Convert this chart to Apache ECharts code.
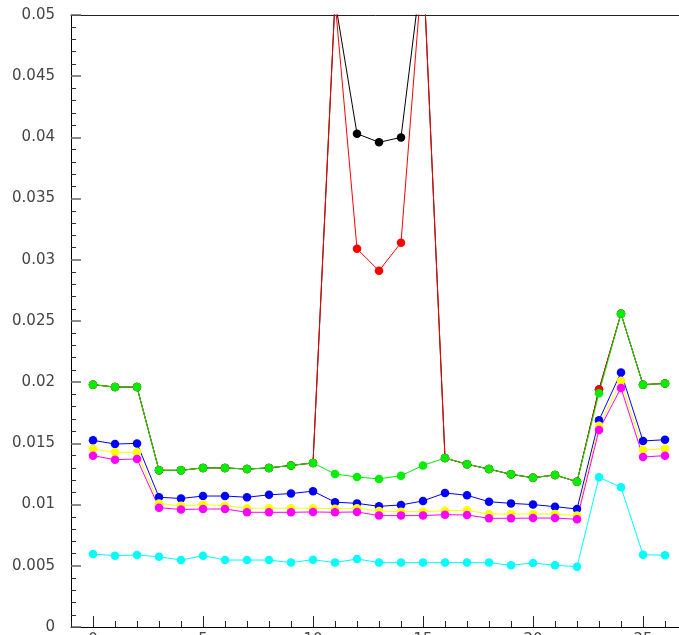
<!DOCTYPE html>
<html>
<head>
<meta charset="utf-8">
<script src="https://cdn.jsdelivr.net/npm/echarts@6/dist/echarts.min.js"></script>
<style>
  html, body { margin: 0; padding: 0; background: #fff; }
  #main { width: 679px; height: 635px; }
</style>
</head>
<body>
<div id="main"></div>
<script>
// x positions of the points
var xs = [0, 1, 2, 3, 4, 5, 6, 7, 8, 9, 10, 11, 12, 13, 14, 15, 16, 17, 18, 19, 20, 21, 22, 23, 24, 25, 26];
var xLabels = [0, 5, 10, 15, 20, 25];

// series values
var blackVals = [0.0198, 0.0196, 0.0196, 0.0128, 0.0128, 0.0130, 0.0130, 0.0129, 0.0130, 0.0132, 0.0134,
  0.0512, 0.0403, 0.0396, 0.0400, 0.0545, 0.0138, 0.0133, 0.0129, 0.01247, 0.0122, 0.01242, 0.01187,
  0.0194, 0.0256, 0.0198, 0.0199];
var redVals = [0.0198, 0.0196, 0.0196, 0.0128, 0.0128, 0.0130, 0.0130, 0.0129, 0.0130, 0.0132, 0.0134,
  0.0512, 0.0309, 0.0291, 0.0314, 0.0545, 0.0138, 0.0133, 0.0129, 0.01247, 0.0122, 0.01242, 0.01187,
  0.0194, 0.0256, 0.0198, 0.0199];
var greenVals = [0.0198, 0.0196, 0.0196, 0.0128, 0.0128, 0.0130, 0.0130, 0.0129, 0.0130, 0.0132, 0.0134,
  0.0125, 0.01225, 0.0121, 0.01236, 0.0132, 0.0138, 0.0133, 0.0129, 0.01247, 0.0122, 0.01242, 0.01187,
  0.0191, 0.0256, 0.0198, 0.0199];
var blueVals = [0.01525, 0.01495, 0.0150, 0.0106, 0.0105, 0.0107, 0.0107, 0.0106, 0.0108, 0.0109, 0.0111,
  0.0102, 0.0101, 0.00986, 0.00997, 0.0103, 0.01095, 0.01076, 0.01024, 0.0101, 0.0100, 0.00983, 0.00964,
  0.0169, 0.0208, 0.0152, 0.0153];
var yellowVals = [0.01454, 0.01427, 0.01427, 0.01008, 0.0099, 0.0100, 0.0099, 0.0097, 0.0097, 0.0097, 0.0097,
  0.00967, 0.0097, 0.00948, 0.00942, 0.00942, 0.0095, 0.00953, 0.00923, 0.00923, 0.00923, 0.00923, 0.0091,
  0.01645, 0.0201, 0.01446, 0.01457];
var magentaVals = [0.0140, 0.01367, 0.01373, 0.00975, 0.0096, 0.00964, 0.00964, 0.00937, 0.00937, 0.00937, 0.0094,
  0.00937, 0.0094, 0.0091, 0.0091, 0.0091, 0.00918, 0.00915, 0.00888, 0.00888, 0.0089, 0.0089, 0.0088,
  0.0161, 0.01953, 0.01389, 0.0140];
var cyanVals = [0.00596, 0.00583, 0.00588, 0.00574, 0.00547, 0.00583, 0.00547, 0.00547, 0.00547, 0.00526, 0.0055,
  0.00526, 0.00556, 0.00526, 0.00526, 0.00526, 0.00526, 0.00526, 0.00526, 0.00504, 0.00523, 0.00504, 0.00493,
  0.01223, 0.01141, 0.00591, 0.00586];

var seriesDefs = [
  { name: 'black', color: '#000000', vals: blackVals },
  { name: 'red', color: '#ff0000', vals: redVals },
  { name: 'green', color: '#00ee00', vals: greenVals },
  { name: 'blue', color: '#0000ff', vals: blueVals },
  { name: 'yellow', color: '#ffff00', vals: yellowVals },
  { name: 'magenta', color: '#ff00ff', vals: magentaVals },
  { name: 'cyan', color: '#00ffff', vals: cyanVals }
];

function pairs(vals) {
  var out = [];
  for (var i = 0; i < xs.length; i++) {
    out.push([xs[i], vals[i]]);
  }
  return out;
}

var chart = echarts.init(document.getElementById('main'));

var series = seriesDefs.map(function (d) {
  return {
    name: d.name,
    type: 'line',
    xAxisIndex: 0,
    yAxisIndex: 0,
    data: pairs(d.vals),
    symbol: 'circle',
    symbolSize: 8.5,
    showSymbol: true,
    clip: true,
    animation: false,
    itemStyle: { color: d.color },
    lineStyle: { color: d.color, width: 1 }
  };
});

var option = {
  backgroundColor: '#fff',
  animation: false,
  grid: {
    left: 71,
    top: 15,
    width: 616,
    height: 612,
    containLabel: false,
    outerBoundsMode: 'none'
  },
  xAxis: [
    {
      // minor ticks every unit
      type: 'value',
      min: -1,
      max: 27,
      interval: 1,
      position: 'bottom',
      axisLine: { show: true, onZero: false, lineStyle: { color: '#000', width: 1 } },
      axisTick: { show: true, inside: true, length: 6, lineStyle: { color: '#222' } },
      axisLabel: { show: false },
      splitLine: { show: false }
    },
    {
      // major ticks + labels
      type: 'value',
      min: -1,
      max: 27,
      position: 'bottom',
      axisLine: { show: false, onZero: false },
      axisTick: { show: true, inside: true, length: 11, customValues: xLabels, lineStyle: { color: '#222' } },
      axisLabel: {
        show: true,
        customValues: xLabels,
        margin: 6,
        color: '#444',
        fontFamily: 'DejaVu Sans',
        fontSize: 15
      },
      splitLine: { show: false }
    },
    {
      // top frame line
      type: 'value',
      min: -1,
      max: 27,
      position: 'top',
      axisLine: { show: true, onZero: false, lineStyle: { color: '#222', width: 1 } },
      axisTick: { show: false },
      axisLabel: { show: false },
      splitLine: { show: false }
    }
  ],
  yAxis: [
    {
      type: 'value',
      min: 0,
      max: 0.05,
      interval: 0.005,
      axisLine: { show: true, onZero: false, lineStyle: { color: '#000', width: 1 } },
      axisTick: { show: true, inside: true, length: 10, lineStyle: { color: '#666', width: 1.5 } },
      minorTick: { show: true, splitNumber: 5, length: 5, lineStyle: { color: '#333' } },
      axisLabel: {
        margin: 16,
        color: '#444',
        fontFamily: 'DejaVu Sans',
        fontSize: 15,
        formatter: function (v) {
          return String(+v.toFixed(3));
        }
      },
      splitLine: { show: false },
      minorSplitLine: { show: false }
    }
  ],
  series: series
};

chart.setOption(option);
</script>
</body>
</html>
